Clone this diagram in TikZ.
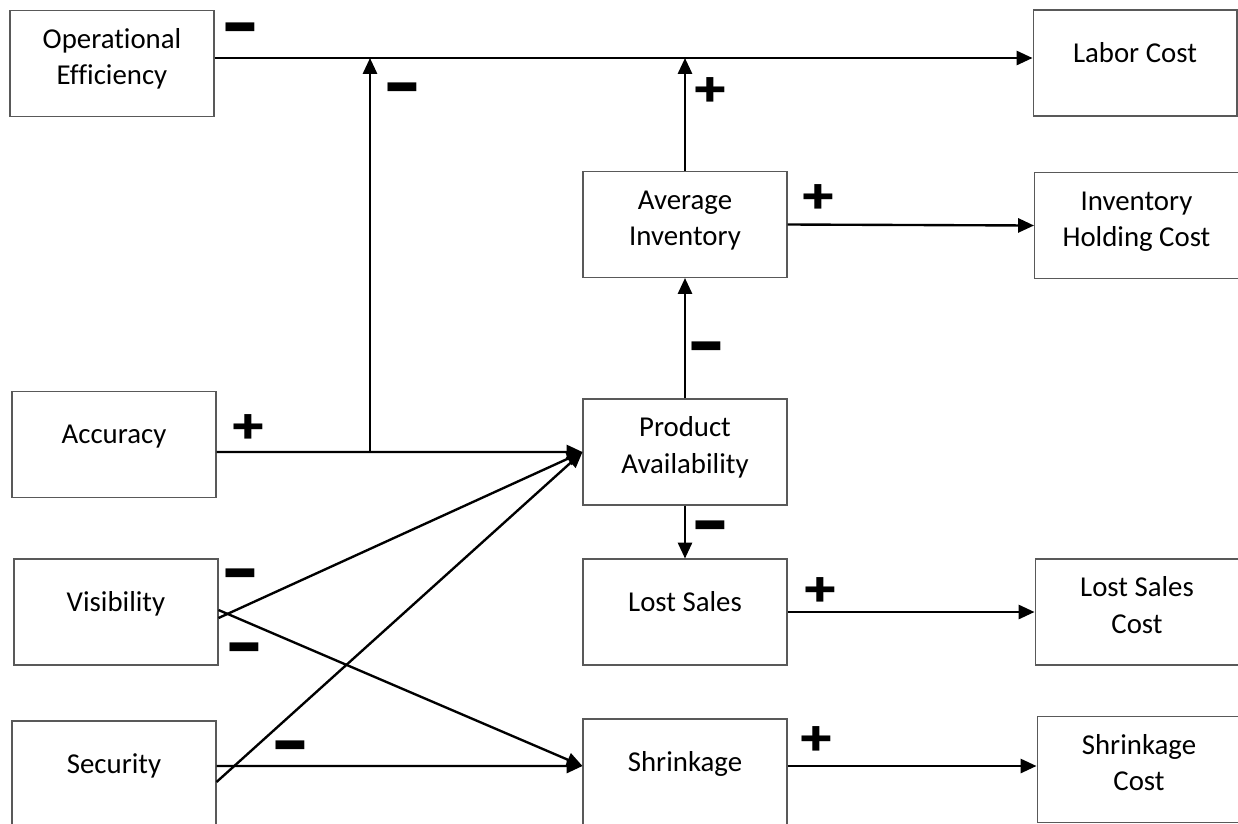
\documentclass[tikz,border=0pt]{standalone}
\usepackage{fontspec}
\setmainfont[Ligatures=NoCommon]{Carlito}
\newfontfamily\emojifont{Noto Emoji}
\usetikzlibrary{arrows.meta}

\newcommand{\plus}{{\emojifont\scalebox{1.05}[0.85]{➕}}}
\newcommand{\minus}{{\emojifont\scalebox{1.05}[1.2]{➖}}}

\begin{document}
\begin{tikzpicture}[x=0.02cm, y=-0.02cm,
    box/.style={draw=black!65, line width=0.6pt, minimum width=4.08cm, minimum height=2.12cm,
        inner sep=0pt, align=center, font=\fontsize{16.4}{20.5}\selectfont,
        text height=0.36cm, text depth=0.4cm},
    two/.style={text height=0.94cm, text depth=0.1cm},
    arr/.style={line width=1.35pt, -{Triangle[length=9pt,width=8pt]}},
    sgn/.style={inner sep=0pt, font=\fontsize{17}{17}\selectfont}]
    \useasboundingbox (0,0) rectangle (1238,823);
    \clip (0,0) rectangle (1238,823);

    % boxes
    \node[box, two] (opeff) at (112,63.5) {Operational\\Efficiency};
    \node[box] (labor) at (1135,63) {Labor Cost};
    \node[box, two] (avginv) at (685,224.5) {Average\\Inventory};
    \node[box, two] (holding) at (1136.5,225.5) {Inventory\\Holding Cost};
    \node[box] (accuracy) at (114,444.5) {Accuracy};
    \node[box, two] (avail) at (685,452) {Product\\Availability};
    \node[box] (visib) at (116,612) {Visibility};
    \node[box] (lost) at (685,612) {Lost Sales};
    \node[box, two] (lostcost) at (1137,612) {Lost Sales\\Cost};
    \node[box] (security) at (114,774) {Security};
    \node[box] (shrink) at (685,772) {Shrinkage};
    \node[box, two] (shrinkcost) at (1139,769.5) {Shrinkage\\Cost};

    % top line to labor cost
    \coordinate (top) at ([yshift=0.11cm]opeff.east);
    \coordinate (split) at (avail.west -| 370,0);
    \draw[arr] (top) -- (top -| labor.west);
    \draw[arr] ([yshift=-0.15cm]accuracy.east) -- (avail.west);
    \draw[arr] (split) -- (split |- top);
    \draw[arr] (avginv.north) -- (avginv.north |- top);
    \draw[arr] (avginv.east) -- (holding.west);
    \draw[arr] (avail.north) -- (avginv.south);
    \draw[arr] (avail.south) -- (lost.north);
    \draw[arr] (lost.east) -- (lost.east -| lostcost.west);
    \draw[arr] ([yshift=0.12cm]shrink.east) -- ([yshift=0.12cm]shrink.east -| shrinkcost.west);

    % crossing lines
    \draw[arr] ([yshift=-0.12cm]visib.east) -- (avail.west);
    \draw[arr] ([yshift=-0.16cm]security.east) -- (avail.west);
    \draw[arr] ([yshift=0.04cm]visib.east) -- ([yshift=0.12cm]shrink.west);
    \draw[arr] ([yshift=0.16cm]security.east) -- ([yshift=0.12cm]shrink.west);

    % signs
    \node[sgn] (s1) at (240,31) {\minus};
    \node[sgn] (s2) at (402,91) {\minus};
    \node[sgn] (s3) at (710,90) {\plus};
    \node[sgn] (s4) at (818,197) {\plus};
    \node[sgn] (s5) at (248,427) {\plus};
    \node[sgn] (s6) at (706,350) {\minus};
    \node[sgn] (s7) at (710,529) {\minus};
    \node[sgn] (s8) at (240,577) {\minus};
    \node[sgn] (s9) at (244,651) {\minus};
    \node[sgn] (s10) at (290,749) {\minus};
    \node[sgn] (s11) at (820,590) {\plus};
    \node[sgn] (s12) at (816,739) {\plus};
\end{tikzpicture}
\end{document}
